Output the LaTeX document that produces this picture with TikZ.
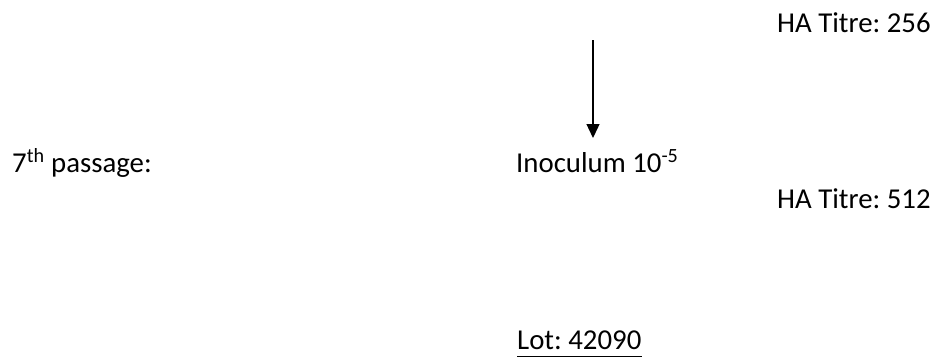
\documentclass[tikz,border=0pt]{standalone}
\usepackage{fontspec}
\setmainfont{Carlito}
\usetikzlibrary{arrows.meta}
\tikzset{
  lbl/.style={inner sep=0pt, anchor=base west, font=\fontsize{28.8}{34}\selectfont\frenchspacing},
  flow/.style={line width=1.3pt, -{Triangle[width=13pt,length=14pt]}},
  uline/.style={line width=1.8pt}
}
\begin{document}
\begin{tikzpicture}[x=1pt,y=-1pt]
\useasboundingbox (0,0) rectangle (936,360);
\node[lbl] (ha1) at (777,32) {HA Titre: 256};
\node[lbl] (pass) at (12,172) {7\textsuperscript{th} passage:};
\node[lbl] (inoc) at (516,172) {Inoculum 10\textsuperscript{-5}};
\node[lbl] (ha2) at (777,208) {HA Titre: 512};
\node[lbl] (lot) at (517,349) {Lot: 42090};
\draw[uline] ([yshift=-7.5pt]lot.base west) -- ([yshift=-7.5pt]lot.base east);
\coordinate (top) at (593,40);
\coordinate (tip) at (593,138);
\draw[flow] (top) -- (tip);
\end{tikzpicture}
\end{document}
